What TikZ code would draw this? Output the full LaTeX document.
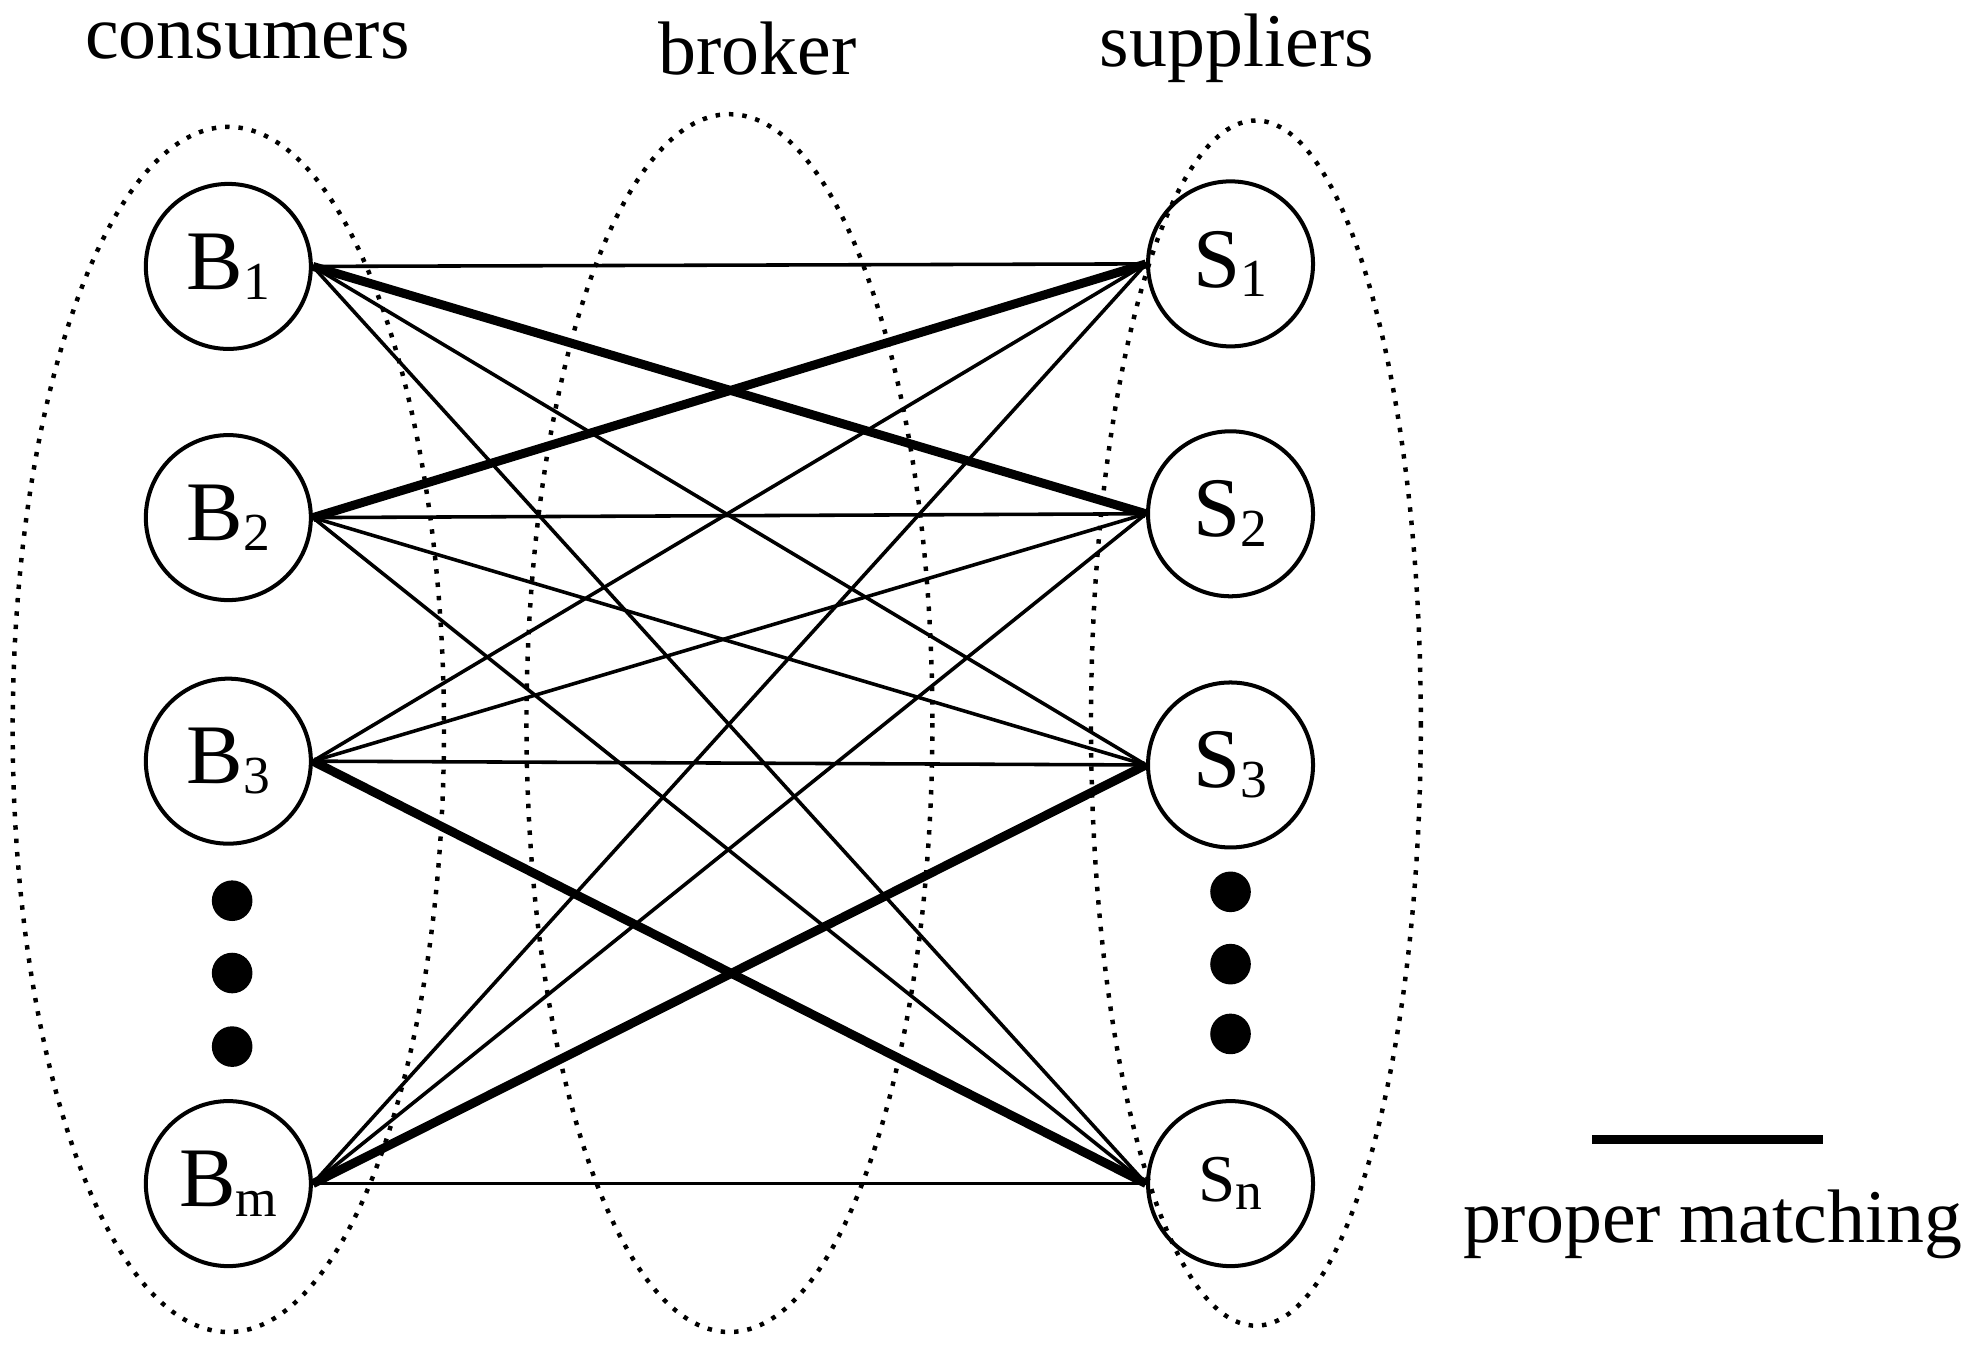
\documentclass[tikz,border=0pt]{standalone}
\usepackage{fontspec}
\setmainfont{Liberation Serif}
\usetikzlibrary{positioning}
\tikzset{
  agent/.style={circle, draw, line width=0.9pt, minimum size=1.3cm, inner sep=0pt, font=\fontsize{19}{22}\selectfont},
  group/.style={draw, dotted, line width=1pt},
  edge/.style={line width=0.8pt},
  match/.style={line width=2pt},
  title/.style={font=\fontsize{17}{20}\selectfont},
  dot/.style={circle, fill, minimum size=0.32cm, inner sep=0pt}
}
\newcommand{\sub}[1]{\raisebox{-0.25ex}{\fontsize{12}{14}\selectfont #1}}
\begin{document}
\begin{tikzpicture}[x=0.01cm,y=-0.01cm]
\useasboundingbox (0,0) rectangle (1560,1063);

% Groups
  \draw[group] (180,575) ellipse [x radius=170, y radius=475];
  \draw[group] (575,570) ellipse [x radius=160, y radius=480];
  \draw[group] (990,570) ellipse [x radius=130, y radius=475];

% Titles
  \node[title] (tc) at (195,32) {consumers};
  \node[title] (tb) at (597,38) {broker};
  \node[title] (ts) at (975,38) {suppliers};

% Agents
  \node[agent] (b1) at (180,210) {B\sub{1}};
  \node[agent] (b2) at (180,408) {B\sub{2}};
  \node[agent] (b3) at (180,600) {B\sub{3}};
  \node[agent] (bm) at (180,933) {B\sub{m}};
  \node[agent] (s1) at (970,208) {S\sub{1}};
  \node[agent] (s2) at (970,405) {S\sub{2}};
  \node[agent] (s3) at (970,603) {S\sub{3}};
  \node[agent] (sn) at (970,933) {\fontsize{15}{18}\selectfont S\sub{n}};

% Dots
  \foreach \y in {710,767,825} \node[dot] at (183,\y) {};
  \foreach \y in {703,760,815} \node[dot] at (970,\y) {};

% Edges
  \foreach \b in {b1,b2,b3,bm}
    \foreach \s in {s1,s2,s3,sn}
      \draw[edge] (\b.east) -- (\s.west);
  \draw[match] (b1.east) -- (s2.west);
  \draw[match] (b2.east) -- (s1.west);
  \draw[match] (b3.east) -- (sn.west);
  \draw[match] (bm.east) -- (s3.west);

% Legend
  \coordinate (la) at (1255,898);
  \coordinate (lb) at (1437,898);
  \draw[match] (la) -- (lb);
  \node[title] (lt) at (1350,965) {proper matching};
\end{tikzpicture}
\end{document}
